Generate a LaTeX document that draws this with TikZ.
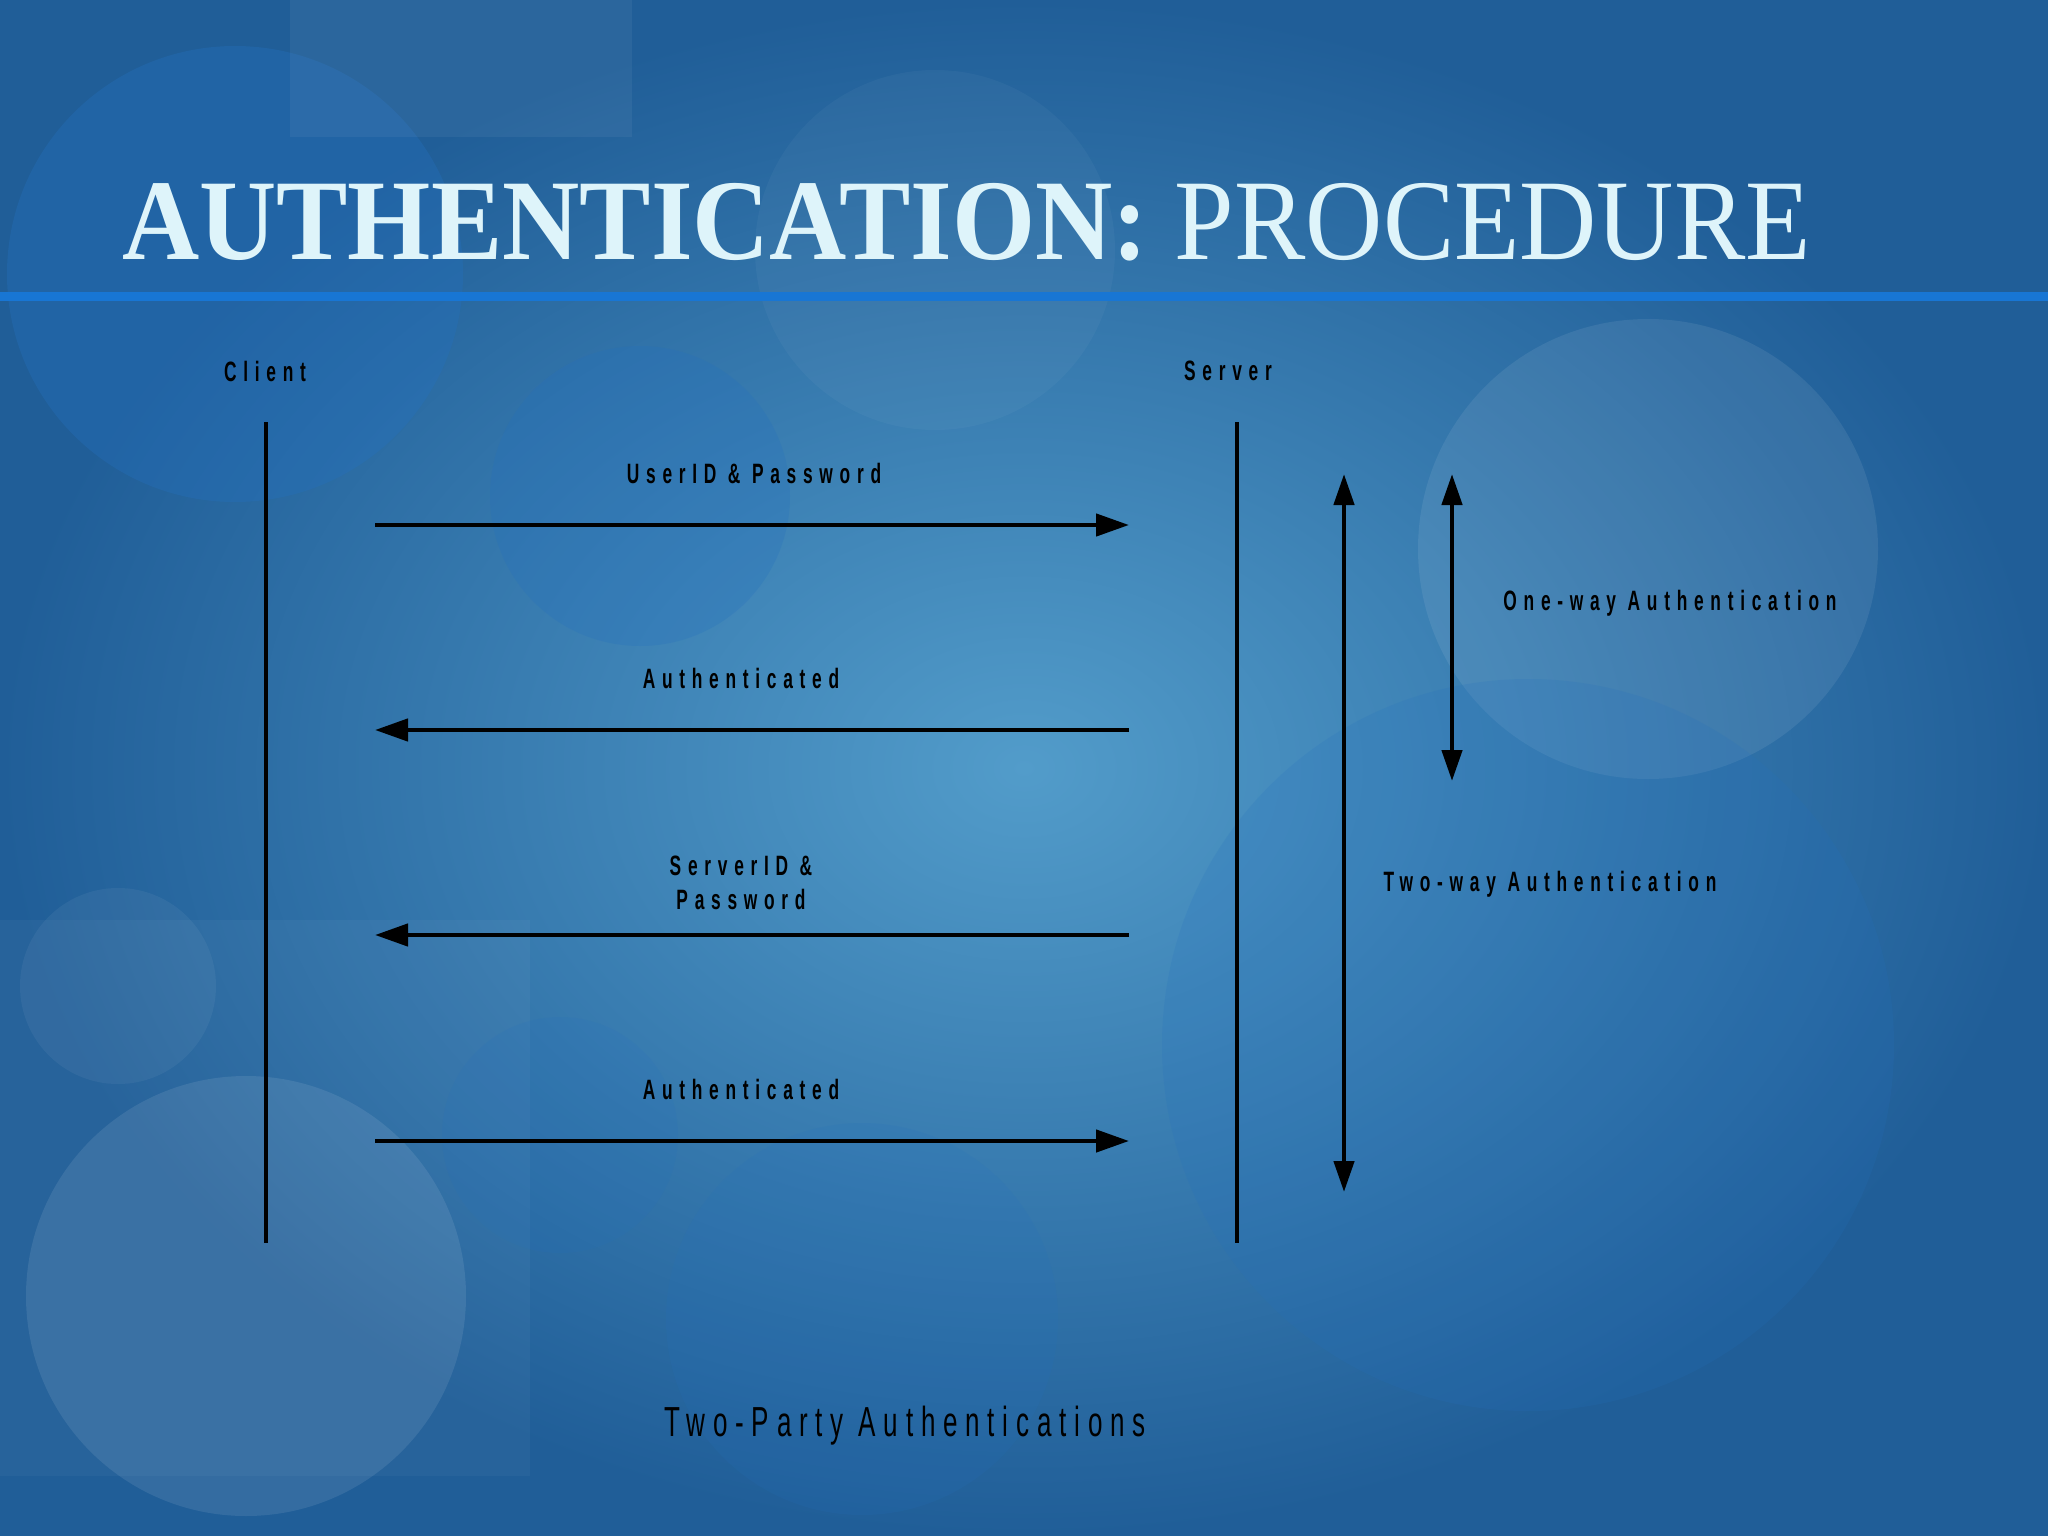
\documentclass[tikz,border=0pt]{standalone}
\usepackage{fontspec}
\usetikzlibrary{arrows.meta}
\newfontfamily\ttlfont[FakeStretch=0.93]{Liberation Serif}
\newfontfamily\lblfont[FakeStretch=0.62,LetterSpace=24]{Liberation Sans}
\newfontfamily\capfont[FakeStretch=0.62,LetterSpace=18.5]{Liberation Sans}
\definecolor{bgouter}{RGB}{32,94,152}
\definecolor{bginner}{RGB}{82,156,202}
\definecolor{deepblue}{RGB}{36,112,190}
\definecolor{barblue}{RGB}{24,118,212}
\definecolor{ttlcol}{RGB}{222,244,250}
\begin{document}
\begin{tikzpicture}[x=1pt,y=-1pt,
  lbl/.style={font=\lblfont\bfseries\fontsize{28}{36}\selectfont, text=black, inner sep=0pt, align=center},
  life/.style={line width=4pt, black},
  msg/.style={line width=4.5pt, black, -{Triangle[length=33pt,width=22pt]}},
  span/.style={line width=4.5pt, black, {Triangle[length=31pt,width=20pt]}-{Triangle[length=31pt,width=20pt]}},
  lite/.style={fill=white, fill opacity=0.05},
  deep/.style={fill=deepblue, fill opacity=0.35}]
\useasboundingbox (0,0) rectangle (2048,1536);
\shade[inner color=bginner, outer color=bgouter] (0,0) rectangle (2048,1536);
\fill[deep] (235,274) circle (228);
\fill[lite] (290,0) rectangle (632,137);
\fill[deep, fill opacity=0.25] (640,496) circle (150);
\fill[lite, fill opacity=0.035] (935,250) circle (180);
\fill[white, fill opacity=0.08] (1648,549) circle (230);
\fill[deep, fill opacity=0.18] (1528,1045) circle (366);
\fill[lite, fill opacity=0.035] (0,920) rectangle (530,1476);
\fill[white, fill opacity=0.09] (246,1296) circle (220);
\fill[lite] (118,986) circle (98);
\fill[deep, fill opacity=0.15] (862,1319) circle (196);
\fill[deep, fill opacity=0.15] (560,1135) circle (118);
\fill[barblue] (0,292) rectangle (2048,301);
\node[anchor=base west, inner sep=0pt, text=ttlcol, font=\ttlfont\fontsize{115}{120}\selectfont] (title) at (122,259) {\textbf{AUTHENTICATION:} PROCEDURE};
\node[lbl] (client) at (265,371) {Client};
\node[lbl] (server) at (1228,371) {Server};
\coordinate (clientTop) at (266,422);
\coordinate (clientBot) at (266,1243);
\coordinate (serverTop) at (1237,422);
\coordinate (serverBot) at (1237,1243);
\draw[life] (clientTop) -- (clientBot);
\draw[life] (serverTop) -- (serverBot);
\coordinate (m1a) at (375,525);
\coordinate (m1b) at (1129,525);
\coordinate (m2a) at (1129,730);
\coordinate (m2b) at (375,730);
\coordinate (m3a) at (1129,935);
\coordinate (m3b) at (375,935);
\coordinate (m4a) at (375,1141);
\coordinate (m4b) at (1129,1141);
\draw[msg] (m1a) -- (m1b);
\draw[msg] (m2a) -- (m2b);
\draw[msg] (m3a) -- (m3b);
\draw[msg] (m4a) -- (m4b);
\node[lbl] (userpw) at (754,473) {UserID \& Password};
\node[lbl] (auth1) at (741,678) {Authenticated};
\node[lbl] (srvpw) at (741,883) {ServerID \&\\[-2pt]Password};
\node[lbl] (auth2) at (741,1089) {Authenticated};
\coordinate (twoTop) at (1344,474);
\coordinate (twoBot) at (1344,1192);
\coordinate (oneTop) at (1452,474);
\coordinate (oneBot) at (1452,781);
\draw[span] (twoTop) -- (twoBot);
\draw[span] (oneTop) -- (oneBot);
\node[lbl] (oneway) at (1670,603) {One-way Authentication};
\node[lbl] (twoway) at (1550,884) {Two-way Authentication};
\node[lbl, font=\capfont\fontsize{42}{50}\selectfont] (caption) at (905,1426) {Two-Party Authentications};
\end{tikzpicture}
\end{document}
